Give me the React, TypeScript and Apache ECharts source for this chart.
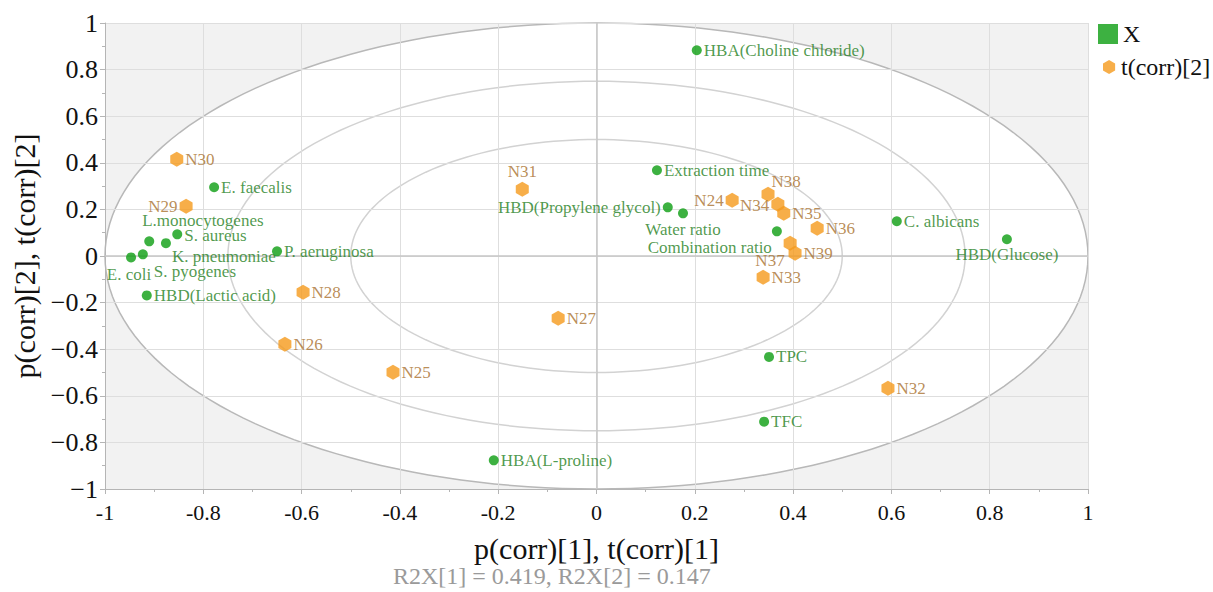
import React, { useEffect, useRef } from "react";
import * as echarts from "echarts";

// ---- data ----
const xNames = [
  "HBA(Choline chloride)", "Extraction time", "HBD(Propylene glycol)", "Water ratio",
  "Combination ratio", "C. albicans", "HBD(Glucose)", "TPC", "TFC", "HBA(L-proline)",
  "E. faecalis", "S. aureus", "L.monocytogenes", "K. pneumoniae", "E. coli",
  "S. pyogenes", "P. aeruginosa", "HBD(Lactic acid)",
];
const xP1 = [0.204, 0.123, 0.145, 0.176, 0.367, 0.611, 0.835, 0.351, 0.341, -0.209,
  -0.778, -0.853, -0.910, -0.876, -0.947, -0.923, -0.650, -0.915];
const xP2 = [0.883, 0.368, 0.209, 0.183, 0.106, 0.149, 0.072, -0.433, -0.711, -0.877,
  0.295, 0.093, 0.063, 0.055, -0.006, 0.007, 0.020, -0.169];

const tNames = ["N30", "N29", "N28", "N26", "N25", "N27", "N31", "N24", "N38", "N34",
  "N35", "N36", "N37", "N39", "N33", "N32"];
const tT1 = [-0.854, -0.835, -0.597, -0.634, -0.414, -0.078, -0.151, 0.276, 0.349, 0.369,
  0.381, 0.449, 0.394, 0.404, 0.339, 0.593];
const tT2 = [0.415, 0.213, -0.156, -0.379, -0.499, -0.267, 0.286, 0.239, 0.265, 0.222,
  0.183, 0.119, 0.055, 0.012, -0.091, -0.568];

const ellipseRadii = [1, 0.75, 0.5];
const xAxisTitle = "p(corr)[1], t(corr)[1]";
const yAxisTitle = "p(corr)[2], t(corr)[2]";
const subTitle = "R2X[1] = 0.419, R2X[2] = 0.147";
const legendX = "X";
const legendT = "t(corr)[2]";

// ---- label placement (style) ----
const placements: Record<string, [string, number, number]> = {
  "HBD(Propylene glycol)": ["left", 0, 0],
  "Water ratio": ["bottom", 0, 1],
  "Combination ratio": ["left", 2, 16],
  "HBD(Glucose)": ["bottom", 0, 0],
  "L.monocytogenes": ["right", -14, -21],
  "S. aureus": ["right", 0, 1],
  "K. pneumoniae": ["right", -1, 13],
  "E. coli": ["bottom", -2, 2],
  "S. pyogenes": ["right", 4, 17],
  N29: ["left", 0, 0],
  N31: ["top", 0, 0],
  N24: ["left", 0, 0],
  N38: ["right", -5, -13],
  N34: ["left", 0, 1],
  N37: ["left", 3, 17],
};

const FONT = "'Liberation Serif', 'Times New Roman', serif";
const HEX = "path://M0,-10 L8.66,-5 L8.66,5 L0,10 L-8.66,5 L-8.66,-5 Z";

function labelFor(name: string, color: string) {
  const p = placements[name] || ["right", 0, 0];
  return {
    show: true,
    position: p[0],
    offset: [p[1], p[2]],
    distance: 2,
    color,
    fontSize: 17,
    fontFamily: FONT,
    formatter: "{b}",
  };
}

export default function App() {
  const ref = useRef<HTMLDivElement>(null);
  useEffect(() => {
    document.body.style.margin = "0";
    const chart = echarts.init(ref.current!, null, { renderer: "svg" });

    const ellipsePoints = (api: any, r: number) => {
      const pts: number[][] = [];
      for (let i = 0; i <= 180; i++) {
        const a = (i / 180) * Math.PI * 2;
        pts.push(api.coord([r * Math.cos(a), r * Math.sin(a)]));
      }
      return pts;
    };

    const option: any = {
      animation: false,
      backgroundColor: "#ffffff",
      grid: { left: 105, right: 125, top: 23, bottom: 103, containLabel: false },
      legend: [
        {
          data: [{ name: legendX, icon: "rect" }],
          left: 1093, top: 17, orient: "vertical",
          itemWidth: 20, itemHeight: 20,
          textStyle: { fontFamily: FONT, fontSize: 24, color: "#111" },
          selectedMode: false,
        },
        {
          data: [{ name: legendT, icon: HEX }],
          left: 1098, top: 50, orient: "vertical",
          itemWidth: 14, itemHeight: 14,
          textStyle: { fontFamily: FONT, fontSize: 24, color: "#111" },
          selectedMode: false,
        },
      ],
      xAxis: {
        type: "value", min: -1, max: 1, interval: 0.2, z: 3,
        name: xAxisTitle, nameLocation: "middle", nameGap: 44,
        nameTextStyle: { fontFamily: FONT, fontSize: 30, color: "#111" },
        axisLine: { onZero: false, lineStyle: { color: "#b5b5b5" } },
        axisTick: { show: true, length: 5, lineStyle: { color: "#b5b5b5" } },
        minorTick: { show: true, splitNumber: 2, length: 3, lineStyle: { color: "#b5b5b5" } },
        splitLine: { show: true, lineStyle: { color: "#dedede", width: 1 } },
        axisLabel: { fontFamily: FONT, fontSize: 22, color: "#111", margin: 12 },
      },
      yAxis: {
        type: "value", min: -1, max: 1, interval: 0.2, z: 3,
        name: yAxisTitle, nameLocation: "middle", nameGap: 52, nameRotate: 90,
        nameTextStyle: { fontFamily: FONT, fontSize: 30, color: "#111" },
        axisLine: { onZero: false, lineStyle: { color: "#b5b5b5" } },
        axisTick: { show: true, length: 5, lineStyle: { color: "#b5b5b5" } },
        minorTick: { show: true, splitNumber: 2, length: 3, lineStyle: { color: "#b5b5b5" } },
        splitLine: { show: true, lineStyle: { color: "#dedede", width: 1 } },
        axisLabel: {
          fontFamily: FONT, fontSize: 26, color: "#111", margin: 7,
          formatter: (v: number) => String(Math.round(v * 10) / 10).replace("-", "\u2212"),
        },
      },
      graphic: [
        {
          type: "text", left: 393, top: 564,
          style: { text: subTitle, fill: "#9a9a9a", fontFamily: FONT, fontSize: 24 },
        },
      ],
      series: [
        {
          type: "custom",
          name: "bg",
          z: 1,
          silent: true,
          coordinateSystem: "cartesian2d",
          data: [[0, 0]],
          encode: { x: 0, y: 1 },
          renderItem: (params: any, api: any) => {
            const tl = api.coord([-1, 1]);
            const br = api.coord([1, -1]);
            const children: any[] = [
              {
                type: "rect",
                shape: { x: tl[0], y: tl[1], width: br[0] - tl[0], height: br[1] - tl[1] },
                style: { fill: "#f2f2f2" },
              },
            ];
            ellipseRadii.forEach((r, i) => {
              children.push({
                type: "polygon",
                shape: { points: ellipsePoints(api, r) },
                style: {
                  fill: i === 0 ? "#ffffff" : "none",
                  stroke: i === 0 ? "#b8b8b8" : "#d2d2d2",
                  lineWidth: 1.5,
                },
              });
            });
            return { type: "group", children };
          },
        },
        {
          type: "scatter",
          name: legendX,
          z: 5,
          symbol: "circle",
          symbolSize: 10,
          itemStyle: { color: "#0c9e12" },
          data: xNames.map((n, i) => ({ name: n, value: [xP1[i], xP2[i]], label: labelFor(n, "#1f7f22") })),
          markLine: {
            silent: true,
            symbol: "none",
            label: { show: false },
            lineStyle: { color: "#c6c6c6", width: 1.5, type: "solid" },
            data: [{ xAxis: 0 }, { yAxis: 0 }],
            z: 4,
          },
        },
        {
          type: "scatter",
          name: legendT,
          z: 6,
          symbol: HEX,
          symbolSize: [13, 15],
          itemStyle: { color: "#f59a1c" },
          data: tNames.map((n, i) => ({ name: n, value: [tT1[i], tT2[i]], label: labelFor(n, "#a8702c") })),
        },
      ],
    };
    chart.setOption(option);
    return () => chart.dispose();
  }, []);
  return <div ref={ref} style={{ width: 1213, height: 592, position: "absolute", left: 0, top: 0 }} />;
}
